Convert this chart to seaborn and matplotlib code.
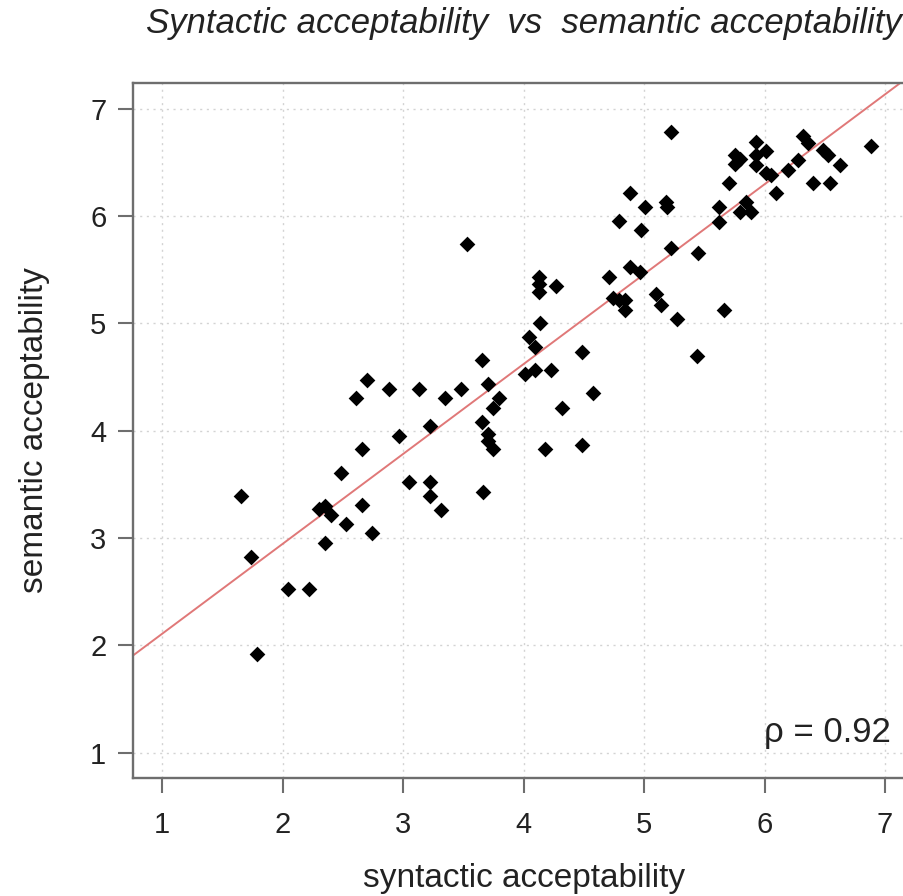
import matplotlib
matplotlib.use("Agg")
import matplotlib.pyplot as plt
import seaborn as sns
import numpy as np
import pandas as pd

# ---- data ----
syntactic = [
    1.654, 1.737, 1.787, 2.047, 2.221, 2.348, 2.300, 2.354, 2.400, 2.526,
    2.481, 2.659, 2.742, 2.659, 2.611, 2.703, 2.880, 2.963, 3.135, 3.348,
    3.223, 3.046, 3.223, 3.223, 3.312,
    3.531, 3.483, 3.655, 3.702, 3.791, 3.744, 3.655, 3.702, 3.702, 3.744,
    4.007, 4.095, 4.228, 4.095, 4.048, 4.137, 4.131, 4.131, 4.131, 4.267,
    4.486, 4.574, 4.314, 4.181, 4.486, 4.707, 4.879, 4.962, 4.740, 4.787,
    4.837, 4.837, 4.970, 5.100, 5.142, 5.272, 5.659, 5.441, 3.661,
    5.225, 5.003, 5.183, 5.188, 5.225, 5.446, 5.618, 5.618, 5.704, 5.751,
    5.792, 5.751, 5.925, 5.925, 5.925, 6.014, 5.792, 5.848, 5.889, 6.014,
    6.055, 6.097, 6.194, 6.277, 6.318, 6.360, 6.484, 6.526, 6.623, 6.401,
    6.540, 6.886, 4.879, 4.790,
]
semantic = [
    3.393, 2.825, 1.918, 2.524, 2.524, 2.958, 3.270, 3.300, 3.210, 3.132,
    3.610, 3.307, 3.046, 3.828, 4.304, 4.477, 4.390, 3.955, 4.390, 4.304,
    4.046, 3.524, 3.524, 3.393, 3.263,
    5.742, 4.390, 4.655, 4.437, 4.310, 4.216, 4.086, 3.968, 3.909, 3.828,
    4.527, 4.568, 4.568, 4.785, 4.872, 5.003, 5.437, 5.369, 5.297, 5.350,
    4.738, 4.350, 4.216, 3.828, 3.869, 5.437, 5.525, 5.484, 5.236, 5.220,
    5.220, 5.127, 5.875, 5.273, 5.173, 5.043, 5.127, 4.698, 3.433,
    6.783, 6.089, 6.136, 6.084, 5.707, 5.655, 6.089, 5.950, 6.313, 6.571,
    6.531, 6.487, 6.695, 6.571, 6.478, 6.612, 6.043, 6.136, 6.043, 6.401,
    6.385, 6.220, 6.431, 6.525, 6.748, 6.680, 6.618, 6.571, 6.478, 6.307,
    6.307, 6.658, 6.220, 5.960,
]
ticks = [1, 2, 3, 4, 5, 6, 7]
tick_labels = ["1", "2", "3", "4", "5", "6", "7"]
title = "Syntactic acceptability  vs  semantic acceptability"
xlabel = "syntactic acceptability"
ylabel = "semantic acceptability"
rho_text = "\u03c1 = 0.92"

df = pd.DataFrame({"syntactic": syntactic, "semantic": semantic})

sns.set_style("white")
plt.rcParams["font.family"] = ["Liberation Sans", "DejaVu Sans"]

fig = plt.figure(figsize=(9.04, 8.96), dpi=100)
ax = fig.add_axes([0.1475, 0.1314, 0.8636, 0.7757])

ax.set_xlim(0.76, 7.24)
ax.set_ylim(0.76, 7.24)
ax.set_xticks(ticks)
ax.set_xticklabels(tick_labels)
ax.set_yticks(ticks)
ax.set_yticklabels(tick_labels)

ax.grid(True, color="#D3D3D3", linestyle=(0, (1.5, 3.3)), linewidth=1.0, zorder=0)
ax.set_axisbelow(True)

sns.regplot(data=df, x="syntactic", y="semantic", scatter=False, ci=None,
            truncate=False, ax=ax,
            line_kws=dict(color="#E07878", lw=1.4, zorder=2))
sns.scatterplot(data=df, x="syntactic", y="semantic", marker="D", s=64,
                color="black", linewidth=0, ax=ax, zorder=3)

ax.set_xlim(0.76, 7.24)
ax.set_ylim(0.76, 7.24)
ax.set_xlabel("")
ax.set_ylabel("")

for sp in ax.spines.values():
    sp.set_color("#6E6E6E")
    sp.set_linewidth(1.7)
ax.spines["right"].set_visible(False)

ax.tick_params(axis="both", which="major", direction="out", length=10.5,
               width=1.5, color="#6E6E6E", labelsize=21, labelcolor="#222222",
               bottom=True, left=True)
ax.tick_params(axis="x", pad=13)
ax.tick_params(axis="y", pad=9)

ax.text(7.045, 1.10, rho_text, ha="right", va="baseline", fontsize=25,
        color="#222222", zorder=4)

cx = (133.3 + 914) / 2 / 904
fig.text(cx, 1 - 887 / 896, xlabel, ha="center", va="baseline", fontsize=24,
         color="#222222")
fig.text(35 / 904, 1 - 430.5 / 896, ylabel, ha="center", va="center",
         rotation=90, fontsize=24, color="#222222")
fig.text(cx, 1 - 33 / 896, title, ha="center", va="baseline", fontsize=25,
         style="italic", color="#222222")

fig.savefig("out.png", dpi=100)
